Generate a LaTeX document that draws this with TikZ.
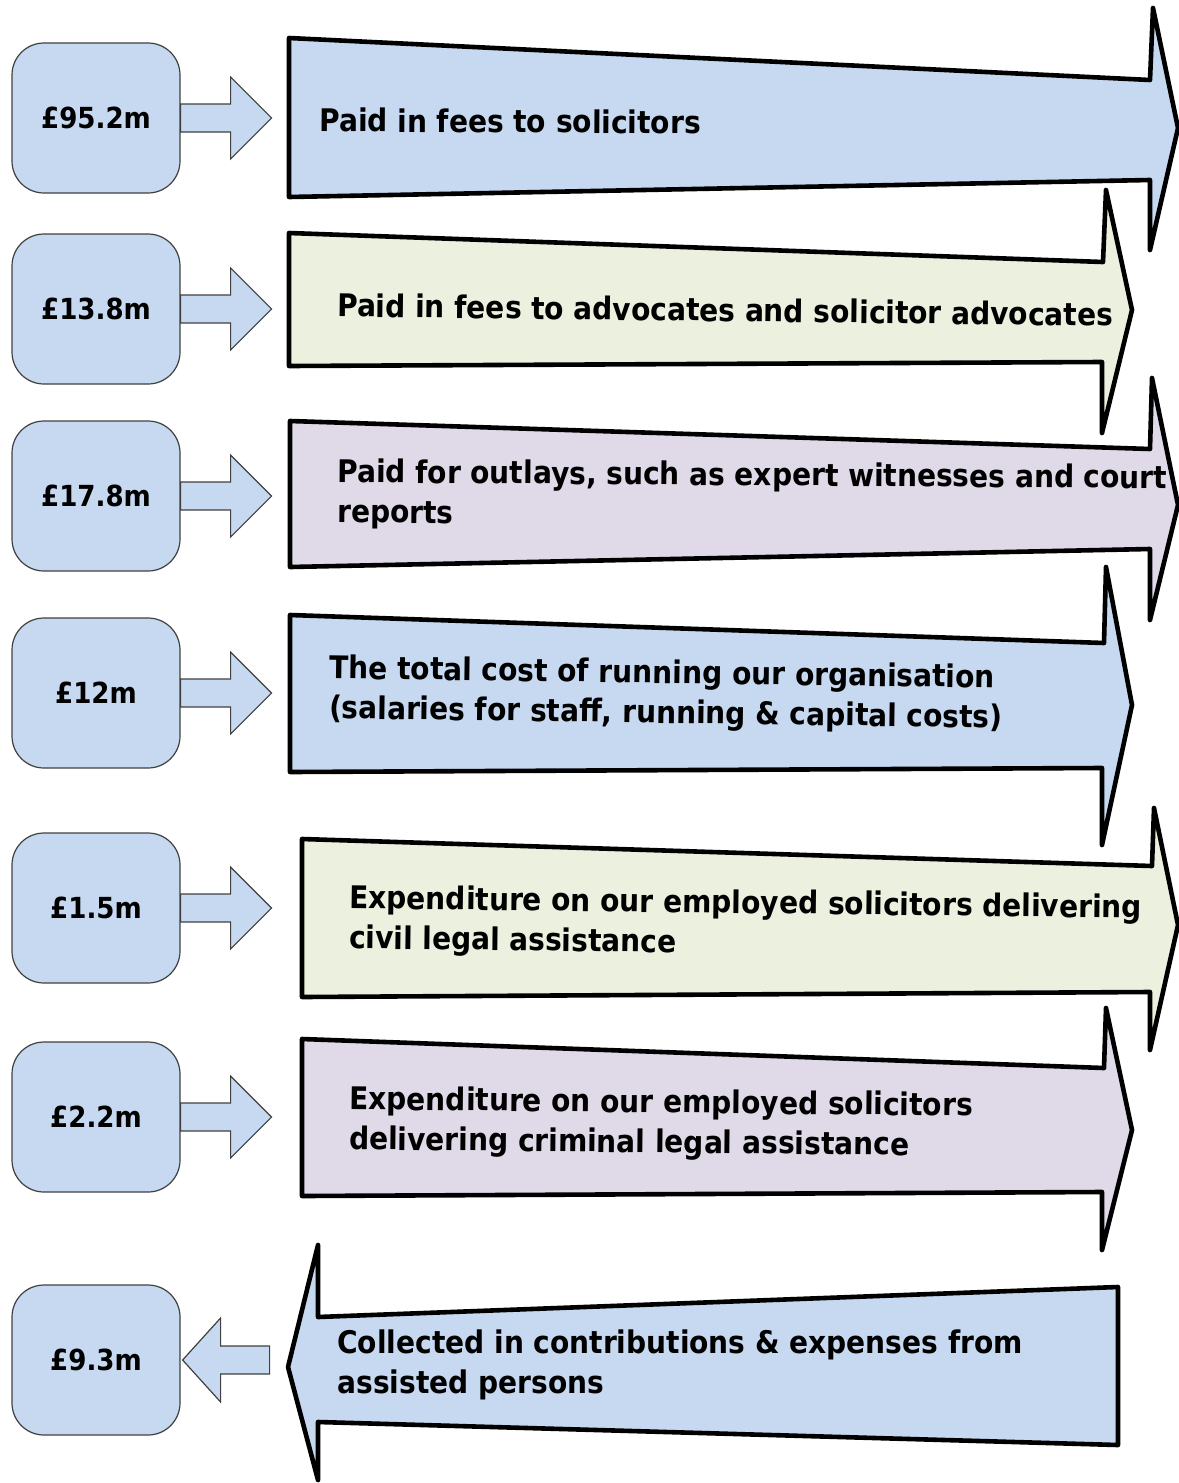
\documentclass[tikz,border=0pt]{standalone}
\usepackage{fontspec}
\setmainfont{DejaVu Sans Condensed}
\usepackage{tikz}

\definecolor{fillblue}{HTML}{C6D9F0}
\definecolor{fillgreen}{HTML}{EBF1DE}
\definecolor{filllilac}{HTML}{E0DAE8}

\begin{document}
\begin{tikzpicture}[x=0.5pt,y=-0.5pt,
    valbox/.style={draw=black!75, fill=fillblue, line width=0.6pt, rounded corners=16pt,
                   minimum width=84pt, minimum height=75pt, inner sep=0pt,
                   font=\bfseries\fontsize{14.5}{17}\selectfont},
    flowarrow/.style={draw=black!75, fill=fillblue, line width=0.6pt},
    bigarrow/.style={draw=black, line width=2.3pt, line join=round},
    desc/.style={anchor=west, align=left, inner sep=0pt,
                 font=\bfseries\fontsize{15.6}{20}\selectfont}]

\useasboundingbox (0,0) rectangle (1178,1483);

% amounts
\node [valbox] (v1) at (96,118)  {£95.2m};
\node [valbox] (v2) at (96,309)  {£13.8m};
\node [valbox] (v3) at (96,496)  {£17.8m};
\node [valbox] (v4) at (96,693)  {£12m};
\node [valbox] (v5) at (96,908)  {£1.5m};
\node [valbox] (v6) at (96,1117) {£2.2m};
\node [valbox] (v7) at (96,1360) {£9.3m};

% big arrows
\draw [bigarrow, fill=fillblue]  (289,38) -- (1150,80) -- (1153,8) -- (1178,128) -- (1150,250) -- (1150,180) -- (289,197) -- cycle;
\draw [bigarrow, fill=fillgreen] (289,233) -- (1103,262) -- (1106,190) -- (1132,310) -- (1102,433) -- (1102,362) -- (289,366) -- cycle;
\draw [bigarrow, fill=filllilac] (290,421) -- (1150,449) -- (1152,378) -- (1178,505) -- (1150,620) -- (1150,549) -- (290,567) -- cycle;
\draw [bigarrow, fill=fillblue]  (290,615) -- (1104,643) -- (1106,567) -- (1132,705) -- (1102,845) -- (1102,768) -- (290,772) -- cycle;
\draw [bigarrow, fill=fillgreen] (302,839) -- (1152,866) -- (1154,808) -- (1178,925) -- (1150,1050) -- (1150,992) -- (302,997) -- cycle;
\draw [bigarrow, fill=filllilac] (302,1039) -- (1104,1068) -- (1106,1008) -- (1132,1130) -- (1102,1250) -- (1102,1192) -- (302,1196) -- cycle;
\draw [bigarrow, fill=fillblue]  (1118,1287) -- (318,1317) -- (318,1245) -- (288,1367) -- (318,1480) -- (318,1422) -- (1118,1445) -- cycle;

% descriptions
\node [desc, rotate=-0.3] (d1) at (319,120)  {Paid in fees to solicitors};
\node [desc, rotate=-0.7] (d2) at (337,305)  {Paid in fees to advocates and solicitor advocates};
\node [desc, rotate=-0.4] (d3) at (337,494)  {Paid for outlays, such as expert witnesses and court\\reports};
\node [desc, rotate=-0.8] (d4) at (329,690)  {The total cost of running our organisation\\(salaries for staff, running \& capital costs)};
\node [desc, rotate=-0.7] (d5) at (349,920)  {Expenditure on our employed solicitors delivering\\civil legal assistance};
\node [desc, rotate=-0.6] (d6) at (349,1121) {Expenditure on our employed solicitors\\delivering criminal legal assistance};
\node [desc] (d7) at (337,1365) {Collected in contributions \& expenses from\\assisted persons};

% small arrows
\foreach \i in {1,...,6}
    \draw [flowarrow] (v\i.east) ++(0,-14) -- ++(50,0) -- ++(0,-27) -- ++(41,41)
        -- ++(-41,41) -- ++(0,-27) -- ++(-50,0) -- cycle;

\draw [flowarrow] (v7.east) ++(2,0) -- ++(38,-42) -- ++(0,28) -- ++(49,0) -- ++(0,28)
    -- ++(-49,0) -- ++(0,28) -- cycle;

\end{tikzpicture}
\end{document}
